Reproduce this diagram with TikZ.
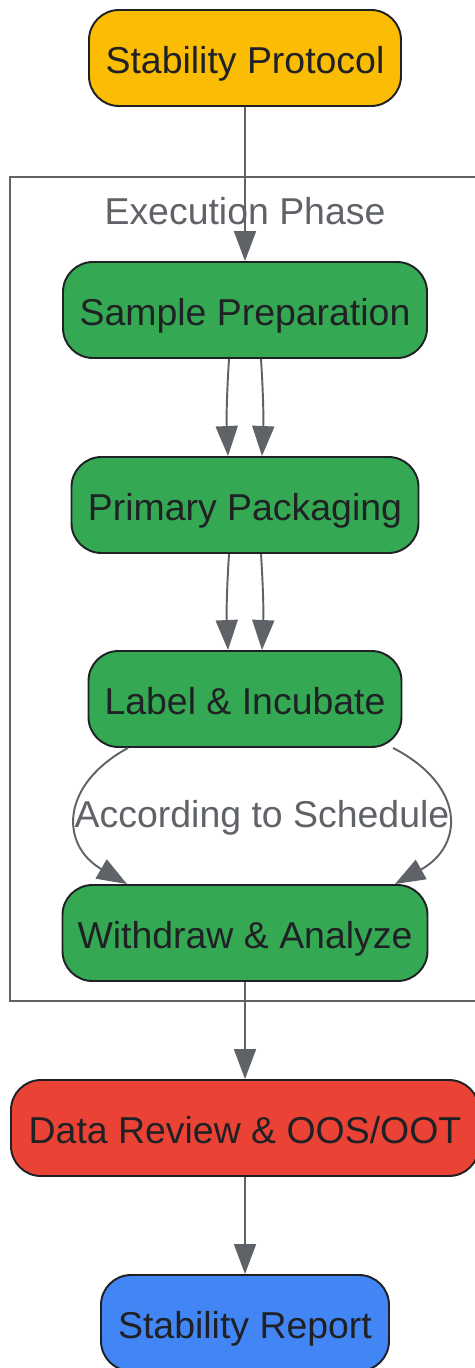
\documentclass[tikz,border=0pt]{standalone}
\usepackage{fontspec}
\setmainfont{Liberation Sans}
\usetikzlibrary{arrows.meta}
\definecolor{protoyellow}{HTML}{FBBC04}
\definecolor{stepgreen}{HTML}{34A853}
\definecolor{reviewred}{HTML}{EA4335}
\definecolor{reportblue}{HTML}{4285F4}
\definecolor{linegray}{HTML}{5F6368}
\definecolor{inkdark}{HTML}{202124}
\begin{document}
\begin{tikzpicture}[
  stage/.style={draw=inkdark, line width=1.1pt, rounded corners=0.6cm, minimum height=1.92cm, text height=0.6cm, text depth=0pt, text=inkdark, font=\fontsize{21.3}{25}\selectfont},
  flow/.style={draw=linegray, line width=1.1pt, -{Triangle[length=0.6cm,width=0.44cm]}},
  note/.style={text=linegray, font=\fontsize{21.3}{25}\selectfont}
]
\useasboundingbox (0,0) rectangle (9.5,-27.36);

% execution phase frame
\draw[linegray, line width=1.1pt] (0.2,-3.54) rectangle (9.6,-20.02);
\node[note] (phase) at (4.9,-4.22) {Execution Phase};

\node[stage, fill=protoyellow, minimum width=6.24cm] (proto) at (4.9,-1.16) {Stability Protocol};
\node[stage, fill=stepgreen, minimum width=7.28cm] (sprep) at (4.9,-6.2) {Sample Preparation};
\node[stage, fill=stepgreen, minimum width=6.94cm] (ppack) at (4.9,-10.1) {Primary Packaging};
\node[stage, fill=stepgreen, minimum width=6.26cm] (lab) at (4.9,-13.98) {Label \& Incubate};
\node[stage, fill=stepgreen, minimum width=7.3cm] (wdraw) at (4.9,-18.66) {Withdraw \& Analyze};
\node[stage, fill=reviewred, minimum width=9.36cm] (review) at (4.9,-22.56) {Data Review \& OOS/OOT};
\node[stage, fill=reportblue, minimum width=5.76cm] (report) at (4.9,-26.46) {Stability Report};

\draw[flow] (proto) -- (sprep);

\draw[flow] ([xshift=-0.32cm]sprep.south) to[bend right=3] ([xshift=-0.34cm]ppack.north);
\draw[flow] ([xshift=0.32cm]sprep.south) to[bend left=3] ([xshift=0.34cm]ppack.north);
\draw[flow] ([xshift=-0.32cm]ppack.south) to[bend right=3] ([xshift=-0.34cm]lab.north);
\draw[flow] ([xshift=0.32cm]ppack.south) to[bend left=3] ([xshift=0.34cm]lab.north);

\draw[flow] ([xshift=-2.34cm]lab.south) .. controls +(-1.36,-0.74) and +(-1.34,0.78) .. ([xshift=-2.36cm]wdraw.north);
\draw[flow] ([xshift=2.96cm]lab.south) .. controls +(1.44,-0.74) and +(1.4,0.78) .. ([xshift=3cm]wdraw.north);
\node[note] (sched) at (5.24,-16.36) {According to Schedule};

\draw[flow] (wdraw) -- (review);
\draw[flow] (review) -- (report);
\end{tikzpicture}
\end{document}
